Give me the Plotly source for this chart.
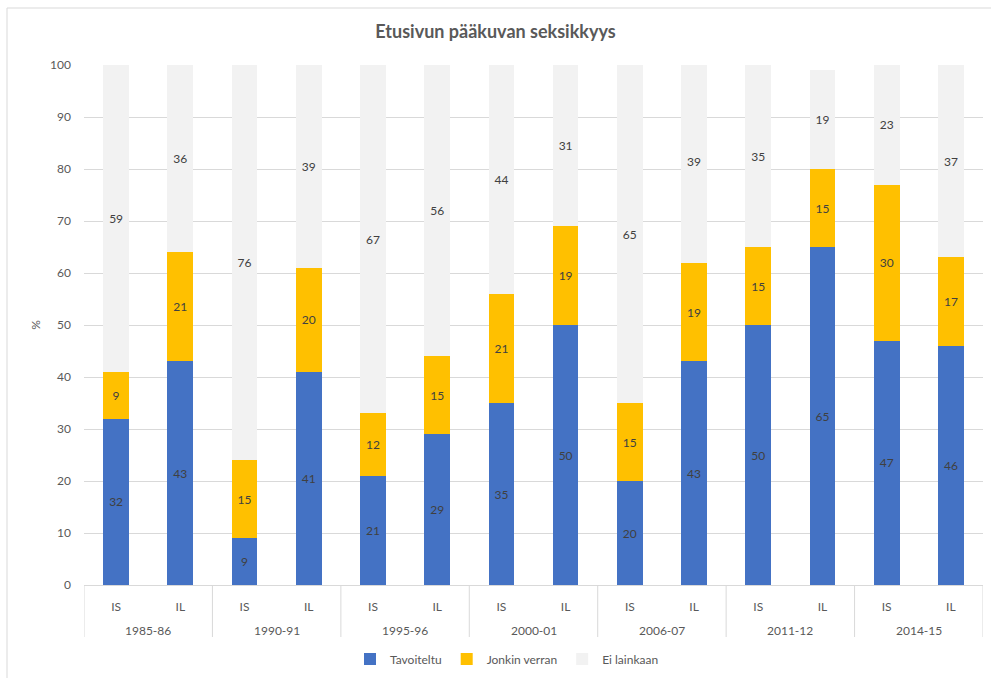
import plotly.graph_objects as go

# Survey periods and paper codes (two bars per period)
periods = ["1985-86", "1990-91", "1995-96", "2000-01", "2006-07", "2011-12", "2014-15"]
papers = ["IS", "IL"]

# Share (%) of front-page main photos by level of sexiness
tavoiteltu = [32, 43, 9, 41, 21, 29, 35, 50, 20, 43, 50, 65, 47, 46]
jonkin_verran = [9, 21, 15, 20, 12, 15, 21, 19, 15, 19, 15, 15, 30, 17]
ei_lainkaan = [59, 36, 76, 39, 67, 56, 44, 31, 65, 39, 35, 19, 23, 37]

n_per = len(papers)
x_pos = list(range(len(periods) * n_per))
x_paper = [q for _ in periods for q in papers]

FONT = "Lato"
TXT = "#595959"
LBL = "#404040"
GRID = "#D9D9D9"

series = [
    ("Tavoiteltu", tavoiteltu, "#4472C4"),
    ("Jonkin verran", jonkin_verran, "#FFC000"),
    ("Ei lainkaan", ei_lainkaan, "#F2F2F2"),
]

fig = go.Figure()
for name, vals, color in series:
    fig.add_trace(go.Bar(
        name=name,
        x=x_pos,
        y=vals,
        width=0.4,
        marker=dict(color=color, line=dict(width=0)),
        text=[str(v) for v in vals],
        textposition="inside",
        insidetextanchor="middle",
        textangle=0,
        textfont=dict(family=FONT, size=12, color=LBL),
        hoverinfo="skip",
    ))

fig.update_layout(
    barmode="stack",
    width=991,
    height=678,
    margin=dict(l=84, r=8, t=65, b=93),
    paper_bgcolor="white",
    plot_bgcolor="white",
    font=dict(family=FONT, size=12, color=TXT),
    uniformtext=dict(minsize=12, mode="show"),
    title=dict(
        text="<b>Etusivun pääkuvan seksikkyys</b>",
        x=0.5, xanchor="center",
        y=1 - 32 / 678, yanchor="middle",
        font=dict(family=FONT, size=18, color=TXT),
    ),
    legend=dict(
        orientation="h",
        xref="container", yref="container",
        x=507 / 991, xanchor="center",
        y=1 - 659 / 678, yanchor="middle",
        font=dict(family=FONT, size=12, color=TXT),
        itemwidth=30,
        traceorder="normal",
    ),
    showlegend=True,
)

fig.update_yaxes(
    range=[0, 100],
    dtick=10,
    showgrid=True,
    gridcolor=GRID,
    gridwidth=1,
    zeroline=False,
    showline=False,
    ticks="",
    ticklabelstandoff=12,
    automargin=False,
    tickfont=dict(family=FONT, size=12, color=TXT),
    title=dict(text="%", standoff=6, font=dict(family=FONT, size=12, color=TXT)),
)

fig.update_xaxes(
    range=[-0.5, len(x_pos) - 0.5],
    tickmode="array",
    tickvals=x_pos,
    ticktext=x_paper,
    showline=True,
    linecolor=GRID,
    linewidth=1,
    showgrid=False,
    zeroline=False,
    ticks="outside",
    ticklen=11,
    tickcolor="rgba(0,0,0,0)",
    automargin=False,
    tickfont=dict(family=FONT, size=12, color=TXT),
)

# Period group labels and dividers below the category axis
PX_PER_UNIT = 520.0  # plot height in px (y paper units -> px)
label_y = -(630 - 585) / PX_PER_UNIT
divider_bottom = -(637 - 585) / PX_PER_UNIT
for i, period in enumerate(periods):
    start = i * n_per - 0.5
    fig.add_annotation(
        x=start + n_per / 2, xref="x",
        y=label_y, yref="paper",
        text=period, showarrow=False,
        xanchor="center", yanchor="middle",
        font=dict(family=FONT, size=12, color=TXT),
    )
for i in range(len(periods) + 1):
    xb = i * n_per - 0.5
    fig.add_shape(
        type="line", xref="x", yref="paper",
        x0=xb, x1=xb, y0=0, y1=divider_bottom,
        line=dict(color=GRID, width=1),
    )

# Chart frame
fig.add_shape(
    type="rect", xref="paper", yref="paper",
    x0=(7 - 84) / 899, x1=1.05,
    y0=-0.25, y1=(585 - 8) / 520,
    line=dict(color=GRID, width=1),
    fillcolor="rgba(0,0,0,0)",
    layer="below",
)

fig.write_html("out.html")
